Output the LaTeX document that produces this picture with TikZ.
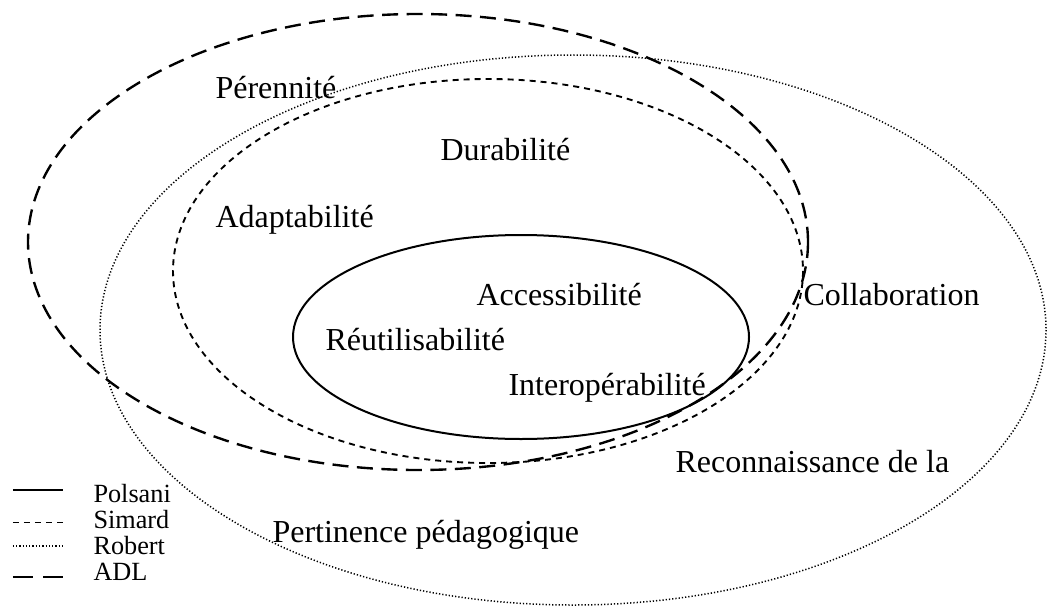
\documentclass[tikz,border=0pt]{standalone}
\usepackage{fontspec}
\setmainfont{Liberation Serif}
\usepackage{tikz}

\begin{document}
\begin{tikzpicture}[x=0.4pt,y=-0.4pt,
    label/.style={anchor=west, inner sep=0pt, font=\fontsize{12.8}{15}\selectfont},
    leg/.style={anchor=west, inner sep=0pt, font=\fontsize{10.5}{12}\selectfont},
    polsani/.style={draw, line width=0.8pt},
    simard/.style={draw, line width=0.75pt, dash pattern=on 2.4pt off 2pt},
    robert/.style={draw, line width=0.6pt, dash pattern=on 0.5pt off 0.8pt},
    adl/.style={draw, line width=0.95pt, dash pattern=on 6.4pt off 3.4pt}]

    \useasboundingbox (0,0) rectangle (1050,606);

    % ellipses
    \coordinate (cADL) at (418,242);
    \coordinate (cRobert) at (573,330);
    \coordinate (cSimard) at (488,271);
    \coordinate (cPolsani) at (521,337);

    \draw[adl] (cADL) ellipse (390 and 228);
    \draw[robert] (cRobert) ellipse (473 and 275);
    \draw[simard] (cSimard) ellipse (315 and 192);
    \draw[polsani] (cPolsani) ellipse (228 and 102);

    %------------------------------------------------

    \node[label] (perennite) at (215,88)
    {Pérennité};

    \node[label] (durabilite) at (440,150)
    {Durabilité};

    \node[label] (adaptabilite) at (215,220)
    {Adaptabilité};

    \node[label] (accessibilite) at (476,295)
    {Accessibilité};

    \node[label] (reutilisabilite) at (325,340)
    {Réutilisabilité};

    \node[label] (interoperabilite) at (508,388)
    {Interopérabilité};

    \node[label] (collaboration) at (803,295)
    {Collaboration};

    \node[label] (reconnaissance) at (675,462)
    {Reconnaissance de la};

    \node[label] (pertinence) at (272,535)
    {Pertinence pédagogique};

    %------------------------------------------------

    \node[leg] (lgPolsani) at (93,494)
    {Polsani};

    \node[leg] (lgSimard) at (93,520)
    {Simard};

    \node[leg] (lgRobert) at (93,546)
    {Robert};

    \node[leg] (lgADL) at (93,572)
    {ADL};

    \draw[polsani] ([xshift=-32pt,yshift=1.5pt]lgPolsani.west) -- ++(50,0);
    \draw[simard] ([xshift=-32pt,yshift=-1pt]lgSimard.west) -- ++(50,0);
    \draw[robert] ([xshift=-32pt]lgRobert.west) -- ++(50,0);
    \draw[adl, dash pattern=on 8pt off 4pt] ([xshift=-32pt,yshift=-2pt]lgADL.west) -- ++(50,0);
\end{tikzpicture}
\end{document}
